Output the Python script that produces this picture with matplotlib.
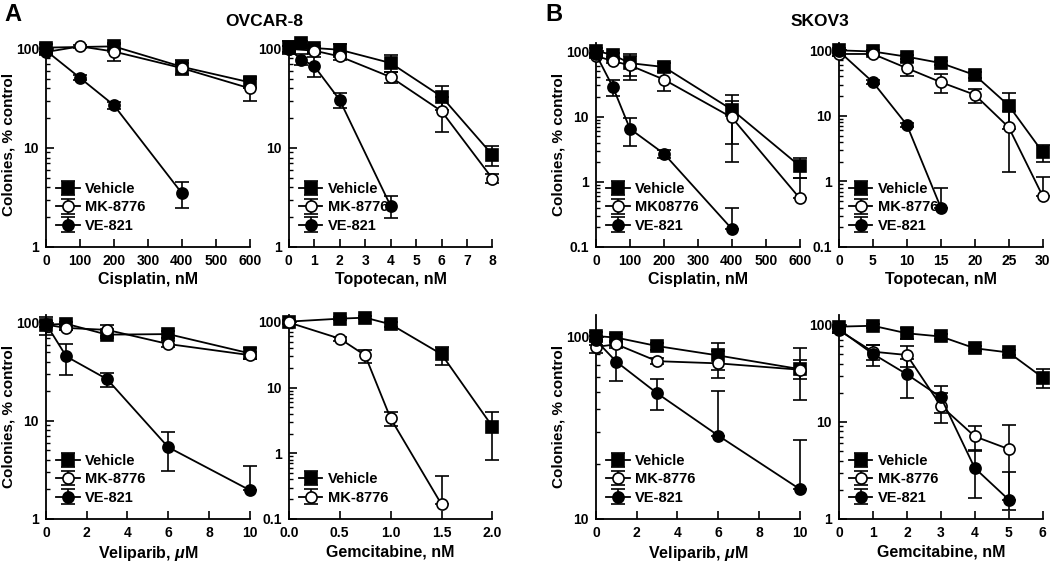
#Importing libraries
import matplotlib
matplotlib.use('Agg')
import matplotlib.pyplot as plt
from matplotlib.ticker import LogLocator, NullFormatter, FixedLocator

plt.rcParams['font.family'] = ['Liberation Sans', 'DejaVu Sans']
plt.rcParams['font.weight'] = 'bold'
plt.rcParams['mathtext.fontset'] = 'custom'
plt.rcParams['mathtext.it'] = 'Liberation Sans:italic:bold'
plt.rcParams['mathtext.rm'] = 'Liberation Sans:bold'

# ---------------- data ----------------
# OVCAR-8, cisplatin (nM)
ov_cis_veh_x = [0, 200, 400, 600]
ov_cis_veh_y = [103, 106, 66, 46]
ov_cis_veh_e = [10, 8, 12, 6]
ov_cis_mk_x = [0, 100, 200, 400, 600]
ov_cis_mk_y = [93, 106, 94, 64, 40]
ov_cis_mk_e = [6, 4, 18, 8, 10]
ov_cis_ve_x = [0, 100, 200, 400]
ov_cis_ve_y = [96, 51, 27, 3.5]
ov_cis_ve_e = [6, 3, 2, 1.0]

# OVCAR-8, topotecan (nM)
ov_top_veh_x = [0, 0.5, 1, 2, 4, 6, 8]
ov_top_veh_y = [104, 114, 102, 98, 72, 33, 8.5]
ov_top_veh_e = [15, 5, 6, 15, 14, 9, 2]
ov_top_mk_x = [0, 1, 2, 4, 6, 8]
ov_top_mk_y = [100, 96, 84, 52, 23.5, 4.9]
ov_top_mk_e = [6, 5, 6, 7, 9, 0.5]
ov_top_ve_x = [0, 0.5, 1, 2, 4]
ov_top_ve_y = [100, 78, 67, 30.5, 2.6]
ov_top_ve_e = [8, 10, 15, 5, 0.65]

# OVCAR-8, veliparib (uM)
ov_vel_veh_x = [0, 1, 3, 6, 10]
ov_vel_veh_y = [96, 98, 76, 77, 49]
ov_vel_veh_e = [20, 5, 6, 6, 6]
ov_vel_mk_x = [0, 1, 3, 6, 10]
ov_vel_mk_y = [96, 89, 85, 61, 47]
ov_vel_mk_e = [6, 5, 11, 4, 4]
ov_vel_ve_x = [0, 1, 3, 6, 10]
ov_vel_ve_y = [98, 45.5, 26.7, 5.4, 1.97]
ov_vel_ve_e = [6, 16, 4.5, 2.3, 1.5]

# OVCAR-8, gemcitabine (nM)
ov_gem_veh_x = [0, 0.5, 0.75, 1.0, 1.5, 2.0]
ov_gem_veh_y = [101, 112, 116, 92, 32.2, 2.55]
ov_gem_veh_e = [6, 5, 5, 8, 10, 1.75]
ov_gem_mk_x = [0, 0.5, 0.75, 1.0, 1.5]
ov_gem_mk_y = [98, 55.7, 31, 3.4, 0.167]
ov_gem_mk_e = [5, 4, 7, 0.8, 0.28]

# SKOV3, cisplatin (nM)
sk_cis_veh_x = [0, 50, 100, 200, 400, 600]
sk_cis_veh_y = [102, 88, 66, 57.6, 12.8, 1.75]
sk_cis_veh_e = [10, 6, 24, 8, 9, 0.6]
sk_cis_mk_x = [0, 50, 100, 200, 400, 600]
sk_cis_mk_y = [85, 71, 61, 37, 9.7, 0.56]
sk_cis_mk_e = [6, 5, 24, 12, 7.7, 0.6]
sk_cis_ve_x = [0, 50, 100, 200, 400]
sk_cis_ve_y = [90, 28.3, 6.5, 2.7, 0.19]
sk_cis_ve_e = [6, 7.5, 3, 0.35, 0.2]

# SKOV3, topotecan (nM)
sk_top_veh_x = [0, 5, 10, 15, 20, 25, 30]
sk_top_veh_y = [100, 96, 80, 64, 42, 14.4, 2.8]
sk_top_veh_e = [8, 5, 5, 5, 4, 8, 0.85]
sk_top_mk_x = [0, 5, 10, 15, 20, 25, 30]
sk_top_mk_y = [88, 88, 53.5, 32.7, 21, 6.7, 0.6]
sk_top_mk_e = [5, 4, 13, 10.5, 5, 5.3, 0.58]
sk_top_ve_x = [0, 5, 10, 15]
sk_top_ve_y = [97, 32.7, 7.3, 0.4]
sk_top_ve_e = [5, 2, 0.6, 0.39]

# SKOV3, veliparib (uM)
sk_vel_veh_x = [0, 1, 3, 6, 10]
sk_vel_veh_y = [101, 99, 89, 79, 66.5]
sk_vel_veh_e = [5, 5, 4, 13, 8]
sk_vel_mk_x = [0, 1, 3, 6, 10]
sk_vel_mk_y = [88, 91, 73.5, 71.5, 66]
sk_vel_mk_e = [7, 4, 3, 12, 21]
sk_vel_ve_x = [0, 1, 3, 6, 10]
sk_vel_ve_y = [95.6, 73, 49, 28.7, 14.6]
sk_vel_ve_e = [5, 16, 9.5, 22, 12.4]

# SKOV3, gemcitabine (nM)
sk_gem_veh_x = [0, 1, 2, 3, 4, 5, 6]
sk_gem_veh_y = [96, 98, 82, 76, 57.5, 52, 28.7]
sk_gem_veh_e = [5, 4, 10, 4, 3, 3, 6.3]
sk_gem_mk_x = [0, 1, 2, 3, 4, 5]
sk_gem_mk_y = [88, 53, 49, 14.7, 7.1, 5.25]
sk_gem_mk_e = [5, 9, 12, 5, 2, 4]
sk_gem_ve_x = [0, 1, 2, 3, 4, 5]
sk_gem_ve_y = [90, 50.3, 31, 18, 3.35, 1.58]
sk_gem_ve_e = [5, 12.5, 13.5, 5.5, 1.7, 1.5]

VEH = dict(marker='s', mfc='black', label='Vehicle')
MK = dict(marker='o', mfc='white', label='MK-8776')
VE = dict(marker='o', mfc='black', label='VE-821')


def drawSeries(ax, x, y, err, style, ylow, label=None):
    """
        Plot one series with error bars. The lower half of a bar is hidden
        when it would fall under the axis floor (as in the original figure).
    """
    lower = [e if (v - e) > ylow else 0 for v, e in zip(y, err)]
    ax.errorbar(x, y, yerr=[lower, err], color='black', lw=1.3,
                marker=style['marker'], mfc=style['mfc'], mec='black',
                mew=1.2, ms=8, capsize=5, capthick=1.2, elinewidth=1.2,
                label=label or style['label'], clip_on=False, zorder=3)


def setupAxes(ax, xlim, xticks, xfmt, ylim, xlabel, ylabel=None):
    ax.set_yscale('log')
    ax.set_xlim(*xlim)
    ax.set_ylim(*ylim)
    ax.xaxis.set_major_locator(FixedLocator(xticks))
    ax.set_xticklabels([xfmt.format(t) for t in xticks])
    ax.yaxis.set_minor_locator(LogLocator(base=10, subs=range(2, 10)))
    ax.yaxis.set_minor_formatter(NullFormatter())
    ticks = [t for t in [0.1, 1, 10, 100] if ylim[0] <= t <= ylim[1]]
    ax.set_yticks(ticks)
    ax.set_yticklabels(['{:g}'.format(t) for t in ticks])
    for s in ['top', 'right']:
        ax.spines[s].set_visible(False)
    for s in ['left', 'bottom']:
        ax.spines[s].set_linewidth(1.3)
    ax.tick_params(which='major', direction='in', length=6, width=1.2,
                   labelsize=10, pad=5)
    ax.tick_params(which='minor', direction='in', length=3, width=1.0)
    for lab in ax.get_xticklabels() + ax.get_yticklabels():
        lab.set_fontweight('bold')
    ax.set_xlabel(xlabel, fontsize=11.5, fontweight='bold', labelpad=3)
    if ylabel:
        ax.set_ylabel(ylabel, fontsize=11, fontweight='bold', labelpad=0)
    ax.legend(loc='lower left', frameon=False, fontsize=10.5,
              handlelength=1.6, handletextpad=0.4, labelspacing=0.3,
              borderaxespad=0.3, bbox_to_anchor=(0.0, 0.02))


fig = plt.figure(figsize=(10.5, 5.67), dpi=100)

w = 0.194
lefts = [0.0438, 0.275, 0.5676, 0.799]
top_b, top_h = 0.5644, 0.36
bot_b, bot_h = 0.0847, 0.36
ylab = 'Colonies, % control'

# top row
ax1 = fig.add_axes([lefts[0], top_b, w, top_h])
yl = (1, 115)
drawSeries(ax1, ov_cis_veh_x, ov_cis_veh_y, ov_cis_veh_e, VEH, yl[0])
drawSeries(ax1, ov_cis_mk_x, ov_cis_mk_y, ov_cis_mk_e, MK, yl[0])
drawSeries(ax1, ov_cis_ve_x, ov_cis_ve_y, ov_cis_ve_e, VE, yl[0])
setupAxes(ax1, (0, 600), range(0, 601, 100), '{:d}', yl, 'Cisplatin, nM', ylab)

ax2 = fig.add_axes([lefts[1], top_b, w, top_h])
yl = (1, 115)
drawSeries(ax2, ov_top_veh_x, ov_top_veh_y, ov_top_veh_e, VEH, yl[0])
drawSeries(ax2, ov_top_mk_x, ov_top_mk_y, ov_top_mk_e, MK, yl[0])
drawSeries(ax2, ov_top_ve_x, ov_top_ve_y, ov_top_ve_e, VE, yl[0])
setupAxes(ax2, (0, 8), range(0, 9), '{:d}', yl, 'Topotecan, nM')

ax3 = fig.add_axes([lefts[2], top_b, w, top_h])
yl = (0.1, 135)
drawSeries(ax3, sk_cis_veh_x, sk_cis_veh_y, sk_cis_veh_e, VEH, yl[0])
drawSeries(ax3, sk_cis_mk_x, sk_cis_mk_y, sk_cis_mk_e, MK, yl[0], 'MK08776')
drawSeries(ax3, sk_cis_ve_x, sk_cis_ve_y, sk_cis_ve_e, VE, yl[0])
setupAxes(ax3, (0, 600), range(0, 601, 100), '{:d}', yl, 'Cisplatin, nM', ylab)

ax4 = fig.add_axes([lefts[3], top_b, w, top_h])
yl = (0.1, 130)
drawSeries(ax4, sk_top_veh_x, sk_top_veh_y, sk_top_veh_e, VEH, yl[0])
drawSeries(ax4, sk_top_mk_x, sk_top_mk_y, sk_top_mk_e, MK, yl[0])
drawSeries(ax4, sk_top_ve_x, sk_top_ve_y, sk_top_ve_e, VE, yl[0])
setupAxes(ax4, (0, 30), range(0, 31, 5), '{:d}', yl, 'Topotecan, nM')

# bottom row
ax5 = fig.add_axes([lefts[0], bot_b, w, bot_h])
yl = (1, 121)
drawSeries(ax5, ov_vel_veh_x, ov_vel_veh_y, ov_vel_veh_e, VEH, yl[0])
drawSeries(ax5, ov_vel_mk_x, ov_vel_mk_y, ov_vel_mk_e, MK, yl[0])
drawSeries(ax5, ov_vel_ve_x, ov_vel_ve_y, ov_vel_ve_e, VE, yl[0])
setupAxes(ax5, (0, 10), range(0, 11, 2), '{:d}', yl, r'Veliparib, $\mu$M', ylab)

ax6 = fig.add_axes([lefts[1], bot_b, w, bot_h])
yl = (0.1, 128)
drawSeries(ax6, ov_gem_veh_x, ov_gem_veh_y, ov_gem_veh_e, VEH, yl[0])
drawSeries(ax6, ov_gem_mk_x, ov_gem_mk_y, ov_gem_mk_e, MK, yl[0])
setupAxes(ax6, (0, 2), [0, 0.5, 1.0, 1.5, 2.0], '{:.1f}', yl, 'Gemcitabine, nM')

ax7 = fig.add_axes([lefts[2], bot_b, w, bot_h])
yl = (10, 132)
drawSeries(ax7, sk_vel_veh_x, sk_vel_veh_y, sk_vel_veh_e, VEH, yl[0])
drawSeries(ax7, sk_vel_mk_x, sk_vel_mk_y, sk_vel_mk_e, MK, yl[0])
drawSeries(ax7, sk_vel_ve_x, sk_vel_ve_y, sk_vel_ve_e, VE, yl[0])
setupAxes(ax7, (0, 10), range(0, 11, 2), '{:d}', yl, r'Veliparib, $\mu$M', ylab)

ax8 = fig.add_axes([lefts[3], bot_b, w, bot_h])
yl = (1, 127)
drawSeries(ax8, sk_gem_veh_x, sk_gem_veh_y, sk_gem_veh_e, VEH, yl[0])
drawSeries(ax8, sk_gem_mk_x, sk_gem_mk_y, sk_gem_mk_e, MK, yl[0])
drawSeries(ax8, sk_gem_ve_x, sk_gem_ve_y, sk_gem_ve_e, VE, yl[0])
setupAxes(ax8, (0, 6), range(0, 7), '{:d}', yl, 'Gemcitabine, nM')

# titles and panel letters
fig.text(0.252, 0.962, 'OVCAR-8', ha='center', va='center', fontsize=12.5, fontweight='bold')
fig.text(0.781, 0.962, 'SKOV3', ha='center', va='center', fontsize=12.5, fontweight='bold')
fig.text(0.004, 0.975, 'A', ha='left', va='center', fontsize=17, fontweight='bold')
fig.text(0.519, 0.975, 'B', ha='left', va='center', fontsize=17, fontweight='bold')

fig.savefig('out.png', dpi=100)
